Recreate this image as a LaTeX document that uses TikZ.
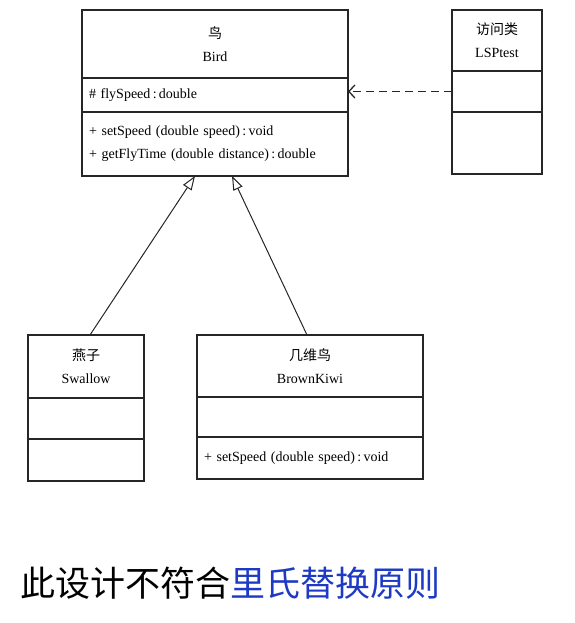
\documentclass[tikz,border=0pt]{standalone}
\usepackage{fontspec}
\setmainfont{Liberation Serif}
\newfontfamily\cjk{Noto Sans CJK SC}
\usepackage{tikz}
\usetikzlibrary{positioning}
\usetikzlibrary{arrows.meta}
\definecolor{lspblue}{RGB}{30,58,196}
\tikzset{
    classbox/.style={
           rectangle,
           draw=black!85, line width=1.4pt,
           inner sep=0pt, outer sep=0pt,
           align=center,
           font=\fontsize{14}{23}\selectfont
           },
    memberbox/.style={
           classbox,
           align=left,
           inner xsep=7pt
           },
    inherit/.style={
           -{Triangle[open,length=14pt,width=10pt]},
           draw=black!85, line width=1pt
           },
    depend/.style={
           -{Straight Barb[length=6pt,width=13pt]},
           draw=black!85, line width=1.3pt,
           dash pattern=on 8pt off 5pt
           },
}
\begin{document}
\begin{tikzpicture}[x=1pt,y=-1pt]
  \useasboundingbox (0,0) rectangle (574,623);
  % Bird
  \node[classbox, minimum width=266pt, minimum height=68pt, anchor=north west] (birdname) at (82,10) {{\cjk 鸟}\\Bird};
  \node[memberbox, text width=252pt, minimum height=34pt] (birdattr) [below=0pt of birdname] {\# flySpeed\,:\,double};
  \node[memberbox, text width=252pt, minimum height=64pt] (birdops) [below=0pt of birdattr] {+ setSpeed (double speed)\,:\,void\\+ getFlyTime (double distance)\,:\,double};
  % LSPtest
  \node[classbox, minimum width=90pt, minimum height=61pt, anchor=north west] (lsname) at (452,10) {{\cjk 访问类}\\LSPtest};
  \node[classbox, minimum width=90pt, minimum height=41pt] (lsattr) [below=0pt of lsname] {};
  \node[classbox, minimum width=90pt, minimum height=62pt] (lsops) [below=0pt of lsattr] {};
  % Swallow
  \node[classbox, minimum width=116pt, minimum height=63pt, anchor=north west] (swname) at (28,335) {{\cjk 燕子}\\Swallow};
  \node[classbox, minimum width=116pt, minimum height=41pt] (swattr) [below=0pt of swname] {};
  \node[classbox, minimum width=116pt, minimum height=42pt] (swops) [below=0pt of swattr] {};
  % BrownKiwi
  \node[classbox, minimum width=226pt, minimum height=62pt, anchor=north west] (kiname) at (197,335) {{\cjk 几维鸟}\\BrownKiwi};
  \node[classbox, minimum width=226pt, minimum height=40pt] (kiattr) [below=0pt of kiname] {};
  \node[memberbox, text width=212pt, minimum height=42pt] (kiops) [below=0pt of kiattr] {+ setSpeed (double speed)\,:\,void};
  % caption
  \node[anchor=west, inner sep=0pt, font=\cjk\fontsize{35}{40}\selectfont] (note) at (20,583) {此设计不符合\textcolor{lspblue}{里氏替换原则}};
  \draw[depend] (lsattr.west) -- (lsattr.west -| birdattr.east);
  \draw[inherit] ([xshift=4pt]swname.north) -- ([xshift=-20pt]birdops.south);
  \draw[inherit] ([xshift=-3pt]kiname.north) -- ([xshift=17pt]birdops.south);
\end{tikzpicture}
\end{document}
